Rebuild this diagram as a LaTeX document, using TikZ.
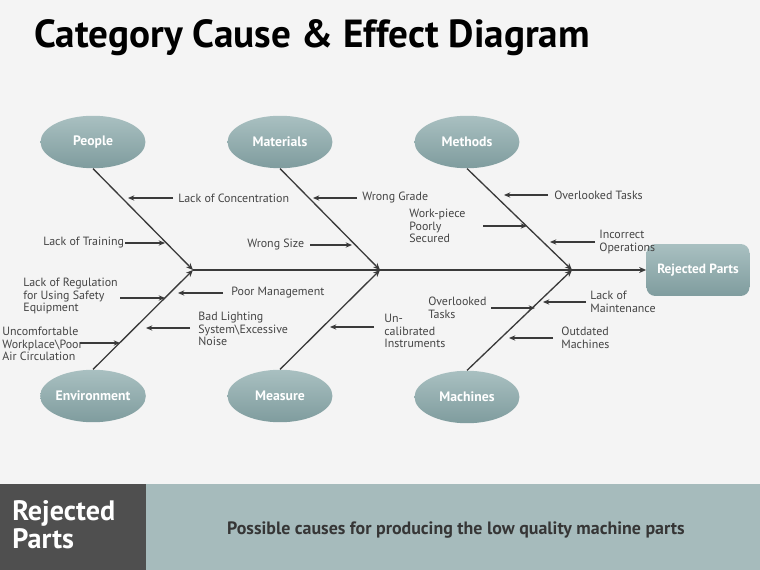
\documentclass[tikz,border=0pt]{standalone}
\usepackage{fontspec}
\setmainfont{PT Sans}
\usepackage{tikz}
\usetikzlibrary{arrows.meta,shapes.geometric,calc}
\definecolor{PageGray}{HTML}{F4F4F4}
\definecolor{BoneGray}{HTML}{3A3A3A}
\definecolor{LabelGray}{HTML}{444444}
\definecolor{TealTop}{HTML}{A9C0C1}
\definecolor{TealBot}{HTML}{7F9C9E}
\definecolor{BarTeal}{HTML}{A6BBBC}
\definecolor{BarDark}{HTML}{4F4F4F}
\tikzset{
    catnode/.style={ellipse, inner sep=0pt, top color=TealTop, bottom color=TealBot, draw=none, minimum width=2.1cm, minimum height=1.05cm, text=white, font=\fontsize{7.8}{9}\selectfont\bfseries},
    effect/.style={rectangle, rounded corners=5pt, top color=TealTop, bottom color=TealBot, draw=none, minimum width=2.06cm, minimum height=1.04cm, text=white, font=\fontsize{7.6}{9}\selectfont\bfseries},
    causelbl/.style={anchor=west, inner sep=0pt, align=left, text=LabelGray, font=\fontsize{6.8}{7.2}\selectfont},
    bone/.style={-{Stealth[length=4pt,width=3.4pt]}, line width=0.75pt, BoneGray},
    spine/.style={-{Stealth[length=4pt,width=3.4pt]}, line width=0.95pt, BoneGray},
    cause/.style={-{Stealth[length=3.6pt,width=3pt]}, line width=0.7pt, BoneGray},
}
\begin{document}
\begin{tikzpicture}[x=0.02cm,y=-0.02cm]
% page and footer bar
\fill[PageGray] (0,0) rectangle (760,570);
\useasboundingbox (0,0) rectangle (760,570);
\fill[BarDark] (0,484) rectangle (146,570);
\fill[BarTeal] (146,484) rectangle (760,570);

\node[anchor=west, inner sep=0pt, font=\fontsize{22.3}{24}\selectfont\bfseries] (title) at (34,38) {Category Cause \& Effect Diagram};

% categories
\node[catnode] (people) at (93,142) {People};
\node[catnode] (materials) at (280,142) {Materials};
\node[catnode] (methods) at (467,142) {Methods};
\node[catnode] (environment) at (93,396) {Environment};
\node[catnode] (measure) at (280,396) {Measure};
\node[catnode] (machines) at (467,397) {Machines};
\node[effect] (rejected) at (698,270) {Rejected Parts};

% spine joints
\coordinate (hubA) at (193,270);
\coordinate (hubB) at (380,270);
\coordinate (hubC) at (572,270);

\draw[spine] (hubA) -- (rejected.west);
\draw[bone] (people.south) -- (hubA);
\draw[bone] (materials.south) -- (hubB);
\draw[bone] (methods.south) -- (hubC);
\draw[bone] (environment.north) -- (hubA);
\draw[bone] (measure.north) -- (hubB);
\draw[bone] (machines.north) -- (hubC);

% cause labels
\node[causelbl] (concentration) at (178,198) {Lack of Concentration};
\node[causelbl] (training) at (43,243) {Lack of Training};
\node[causelbl] (grade) at (362,198) {Wrong Grade};
\node[causelbl] (size) at (247,245) {Wrong Size};
\node[causelbl] (tasksA) at (554,195) {Overlooked Tasks};
\node[causelbl] (workpiece) at (409,226) {Work-piece\\Poorly\\Secured};
\node[causelbl] (operations) at (599,242) {Incorrect\\Operations};
\node[causelbl] (regulation) at (23,296) {Lack of Regulation\\for Using Safety\\Equipment};
\node[causelbl] (management) at (231,293) {Poor Management};
\node[causelbl] (workplace) at (2,344) {Uncomfortable\\Workplace\textbackslash Poor\\Air Circulation};
\node[causelbl] (lighting) at (198,329) {Bad Lighting\\System\textbackslash Excessive\\Noise};
\node[causelbl] (instruments) at (384,331) {Un-\\calibrated\\Instruments};
\node[causelbl] (tasksB) at (428,308) {Overlooked\\Tasks};
\node[causelbl] (maintenance) at (590,302) {Lack of\\Maintenance};
\node[causelbl] (outdated) at (561,338) {Outdated\\Machines};

% cause arrows: name/tail/head/height
\foreach \nm/\tx/\hx/\y in {concentration/173/128/198, training/125/165/243,
    grade/357/313/198, size/310/352/245, tasksA/548/504/195,
    workpiece/483/527/226, operations/595/550/242, regulation/120/165/298,
    management/223/178/293, workplace/80/120/343, lighting/190/146/328,
    instruments/374/330/327, tasksB/491/535/308, maintenance/586/543/302,
    outdated/553/509/338} {
  \coordinate (\nm-t) at (\tx,\y);
  \coordinate (\nm-h) at (\hx,\y);
  \draw[cause] (\nm-t) -- (\nm-h);
}

% footer text
\node[anchor=west, inner sep=0pt, align=left, text=white, font=\fontsize{16}{16}\selectfont\bfseries] (footleft) at (12,525) {Rejected\\Parts};
\node[text=LabelGray!80!black, font=\fontsize{10.2}{12}\selectfont\bfseries] (footnote) at (456,530) {Possible causes for producing the low quality machine parts};
\end{tikzpicture}
\end{document}
